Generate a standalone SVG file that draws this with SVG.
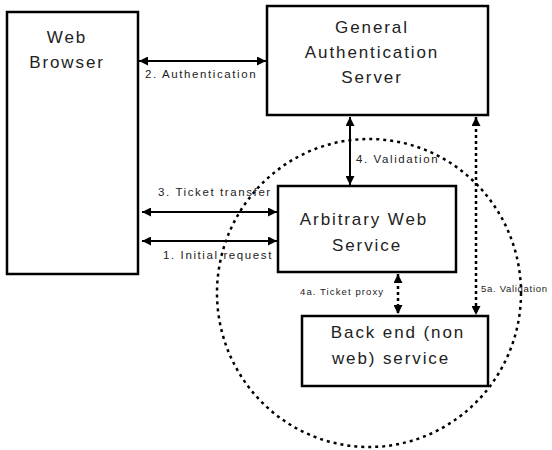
<svg xmlns="http://www.w3.org/2000/svg" width="552" height="450" viewBox="0 0 552 450">
<defs>
<style>
.box{fill:#fff;stroke:#000;stroke-width:2.5}
.node{font-family:"Liberation Sans",Arial,sans-serif;font-size:17px;letter-spacing:1.9px;fill:#222;text-anchor:middle}
.lbl{font-family:"Liberation Sans",Arial,sans-serif;font-size:11.5px;letter-spacing:1.6px;fill:#222}
.sm{font-family:"Liberation Sans",Arial,sans-serif;font-size:9.5px;letter-spacing:1.1px;fill:#222}
.ar{stroke:#000;stroke-width:2;fill:none;marker-start:url(#h);marker-end:url(#h)}
.dar{stroke:#000;stroke-width:2.5;stroke-dasharray:3 3;fill:none;marker-start:url(#h);marker-end:url(#h)}
.circ{fill:none;stroke:#000;stroke-width:2.5;stroke-dasharray:3 4}
</style>
<marker id="h" viewBox="0 0 10 10" refX="10" refY="5" markerWidth="9" markerHeight="9" markerUnits="userSpaceOnUse" orient="auto-start-reverse">
<path d="M0,0 L10,5 L0,10 z" fill="#000"/>
</marker>
</defs>
<g id="scope">
<ellipse class="circ" cx="369" cy="293" rx="152" ry="154"/>
</g>
<g id="web-browser">
<rect class="box" x="7" y="12" width="131" height="262"/>
<text class="node" x="67" y="43">Web</text>
<text class="node" x="67" y="68">Browser</text>
</g>
<g id="auth-server">
<rect class="box" x="267" y="6" width="221" height="109"/>
<text class="node" x="372" y="33">General</text>
<text class="node" x="372" y="58">Authentication</text>
<text class="node" x="372" y="83">Server</text>
</g>
<g id="web-service">
<rect class="box" x="278" y="186" width="178" height="86"/>
<text class="node" x="364" y="225">Arbitrary Web</text>
<text class="node" x="367" y="251">Service</text>
</g>
<g id="backend">
<rect class="box" x="302" y="316" width="186" height="70"/>
<text class="node" x="398" y="338">Back end (non</text>
<text class="node" x="391" y="364">web) service</text>
</g>
<g id="connectors">
<line class="ar" x1="139" y1="61" x2="266" y2="61"/>
<text class="lbl" x="145" y="78">2. Authentication</text>
<line class="ar" x1="350" y1="117" x2="350" y2="185"/>
<text class="lbl" x="356" y="163">4. Validation</text>
<line class="ar" x1="142" y1="212" x2="277" y2="212"/>
<text class="lbl" x="158" y="196">3. Ticket transfer</text>
<line class="ar" x1="142" y1="241" x2="277" y2="241"/>
<text class="lbl" x="163" y="259">1. Initial request</text>
<line class="dar" x1="398" y1="274" x2="398" y2="314"/>
<text class="sm" x="300" y="295">4a. Ticket proxy</text>
<line class="dar" x1="476" y1="117" x2="476" y2="315"/>
<text class="sm" x="481" y="292" style="letter-spacing:0.7px">5a. Validation</text>
</g>
</svg>
